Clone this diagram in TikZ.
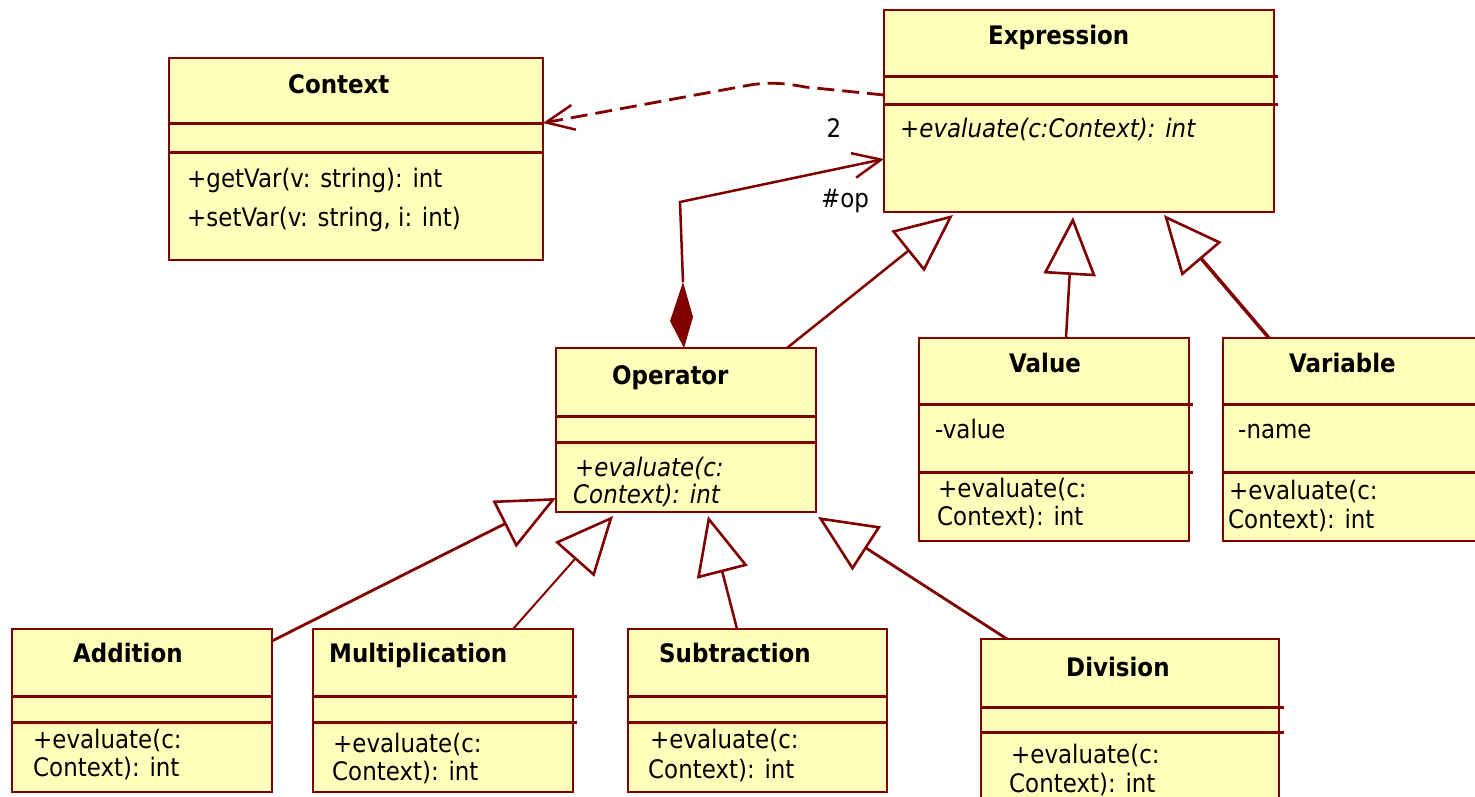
\documentclass[tikz,border=0pt]{standalone}
\usepackage{fontspec}
\setmainfont{DejaVu Sans}[FakeStretch=0.9]
\usetikzlibrary{arrows.meta}

\definecolor{umlred}{RGB}{128,0,0}
\definecolor{umlfill}{RGB}{255,255,187}

\tikzset{
  cbox/.style={draw=umlred, fill=umlfill, line width=2.5pt, inner sep=0pt, outer sep=0pt, rectangle},
  divider/.style={draw=umlred, line width=3pt},
  txt/.style={inner sep=0pt, anchor=base west, font=\fontsize{25.5}{28}\selectfont},
  ttl/.style={txt, font=\fontsize{25.5}{28}\selectfont\bfseries},
  optxt/.style={txt, font=\fontsize{25.5}{28}\selectfont\itshape},
  conn/.style={draw=umlred, line width=2.5pt},
  inherit/.style={conn, -{Triangle[open, length=58pt, width=52pt, line width=2.6pt]}},
  navig/.style={conn, -{Straight Barb[length=28pt, width=25pt, line width=2.5pt]}},
  depend/.style={navig, line width=2.8pt, dash pattern=on 17pt off 8pt},
}

% name, left x, top y, width, height, first divider, second divider, divider overhang
\newcommand\classbox[8]{%
  \node[cbox, minimum width=#4pt, minimum height=#5pt, anchor=north west] (#1) at (#2,#3) {};
  \draw[divider] ([yshift=-#6pt]#1.north west) -- ([yshift=-#6pt, xshift=#8pt]#1.north east);
  \draw[divider] ([yshift=-#7pt]#1.north west) -- ([yshift=-#7pt, xshift=#8pt]#1.north east);
}

\begin{document}
\begin{tikzpicture}[x=1pt, y=-1pt]
  \fill[white] (0,0) rectangle (1475,797);
  \useasboundingbox (0,0) rectangle (1475,797);

  % classes
  \classbox{context}{169}{58}{374}{202}{66}{95}{0}
  \classbox{expression}{884}{10}{390}{202}{67}{95}{4}
  \classbox{operator}{556}{348}{260}{164}{68}{94}{0}
  \classbox{value}{919}{338}{270}{203}{66}{134}{4}
  \classbox{variable}{1223}{338}{272}{203}{66}{134}{0}
  \classbox{addition}{12}{629}{260}{163}{67}{93}{0}
  \classbox{multiplication}{313}{629}{260}{163}{67}{93}{4}
  \classbox{subtraction}{628}{629}{259}{163}{67}{93}{0}
  \classbox{division}{981}{639}{298}{181}{68}{93}{5}

  % class texts
  \node[ttl] (contextT) at (288,94) {Context};
  \node[txt] (contextM1) at (187,187) {+getVar(v: string): int};
  \node[txt] (contextM2) at (187,226) {+setVar(v: string, i: int)};

  \node[ttl] (expressionT) at (988,45) {Expression};
  \node[optxt] (expressionM) at (900,138) {+evaluate(c:Context): int};

  \node[ttl] (operatorT) at (612,384) {Operator};
  \node[optxt] (operatorM1) at (575,476) {+evaluate(c:};
  \node[optxt] (operatorM2) at (573,503) {Context): int};

  \node[ttl] (valueT) at (1009,372) {Value};
  \node[txt] (valueA) at (935,438) {-value};
  \node[txt] (valueM1) at (938,497) {+evaluate(c:};
  \node[txt] (valueM2) at (937,525) {Context): int};

  \node[ttl] (variableT) at (1289,372) {Variable};
  \node[txt] (variableA) at (1238,438) {-name};
  \node[txt] (variableM1) at (1229,499) {+evaluate(c:};
  \node[txt] (variableM2) at (1228,528) {Context): int};

  \node[ttl] (additionT) at (73,662) {Addition};
  \node[txt] (additionM1) at (33,748) {+evaluate(c:};
  \node[txt] (additionM2) at (33,776) {Context): int};

  \node[ttl] (multiplicationT) at (329,662) {Multiplication};
  \node[txt] (multiplicationM1) at (333,752) {+evaluate(c:};
  \node[txt] (multiplicationM2) at (332,780) {Context): int};

  \node[ttl] (subtractionT) at (659,662) {Subtraction};
  \node[txt] (subtractionM1) at (650,748) {+evaluate(c:};
  \node[txt] (subtractionM2) at (648,778) {Context): int};

  \node[ttl] (divisionT) at (1066,676) {Division};
  \node[txt] (divisionM1) at (1011,763) {+evaluate(c:};
  \node[txt] (divisionM2) at (1009,792) {Context): int};

  % generalisations towards Operator
  \draw[inherit, line width=2.8pt] ([yshift=-12pt]addition.north east) -- ([yshift=14pt]operator.south west);
  \draw[inherit, line width=2pt] ([xshift=200pt]multiplication.north west) -- ([xshift=57pt, yshift=-4pt]operator.south west);
  \draw[inherit] ([xshift=109pt]subtraction.north west) -- ([xshift=152pt, yshift=-4pt]operator.south west);
  \draw[inherit, line width=2.8pt] ([xshift=26pt]division.north west) -- ([xshift=2pt, yshift=-5pt]operator.south east);

  % generalisations towards Expression
  \draw[inherit] ([xshift=-29pt]operator.north east) -- ([xshift=69pt, yshift=-3pt]expression.south west);
  \draw[inherit] ([xshift=147pt]value.north west) -- ([xshift=189pt, yshift=-5pt]expression.south west);
  \draw[inherit, line width=3.5pt] ([xshift=46pt]variable.north west) -- ([xshift=280pt, yshift=-3pt]expression.south west);

  % composition Operator -> Expression
  \fill[umlred] ([xshift=128pt]operator.north west) -- ++(-14,-27) -- ++(13,-39) -- ++(10,35) -- cycle;
  \draw[navig] ([xshift=127pt, yshift=66pt]operator.north west)
    -- ([xshift=124pt, yshift=146pt]operator.north west)
    -- ([yshift=-149pt]expression.north west);
  \node[txt, anchor=center] (multTwo) at (834,128) {2};
  \node[txt, anchor=center] (roleOp) at (845,201) {\#op};

  % dependency Expression -> Context
  \draw[depend] ([yshift=-85pt]expression.north west) -- (805,87)
    .. controls (785,83) and (768,82) .. (750,85)
    -- ([yshift=-65pt]context.north east);
\end{tikzpicture}
\end{document}
